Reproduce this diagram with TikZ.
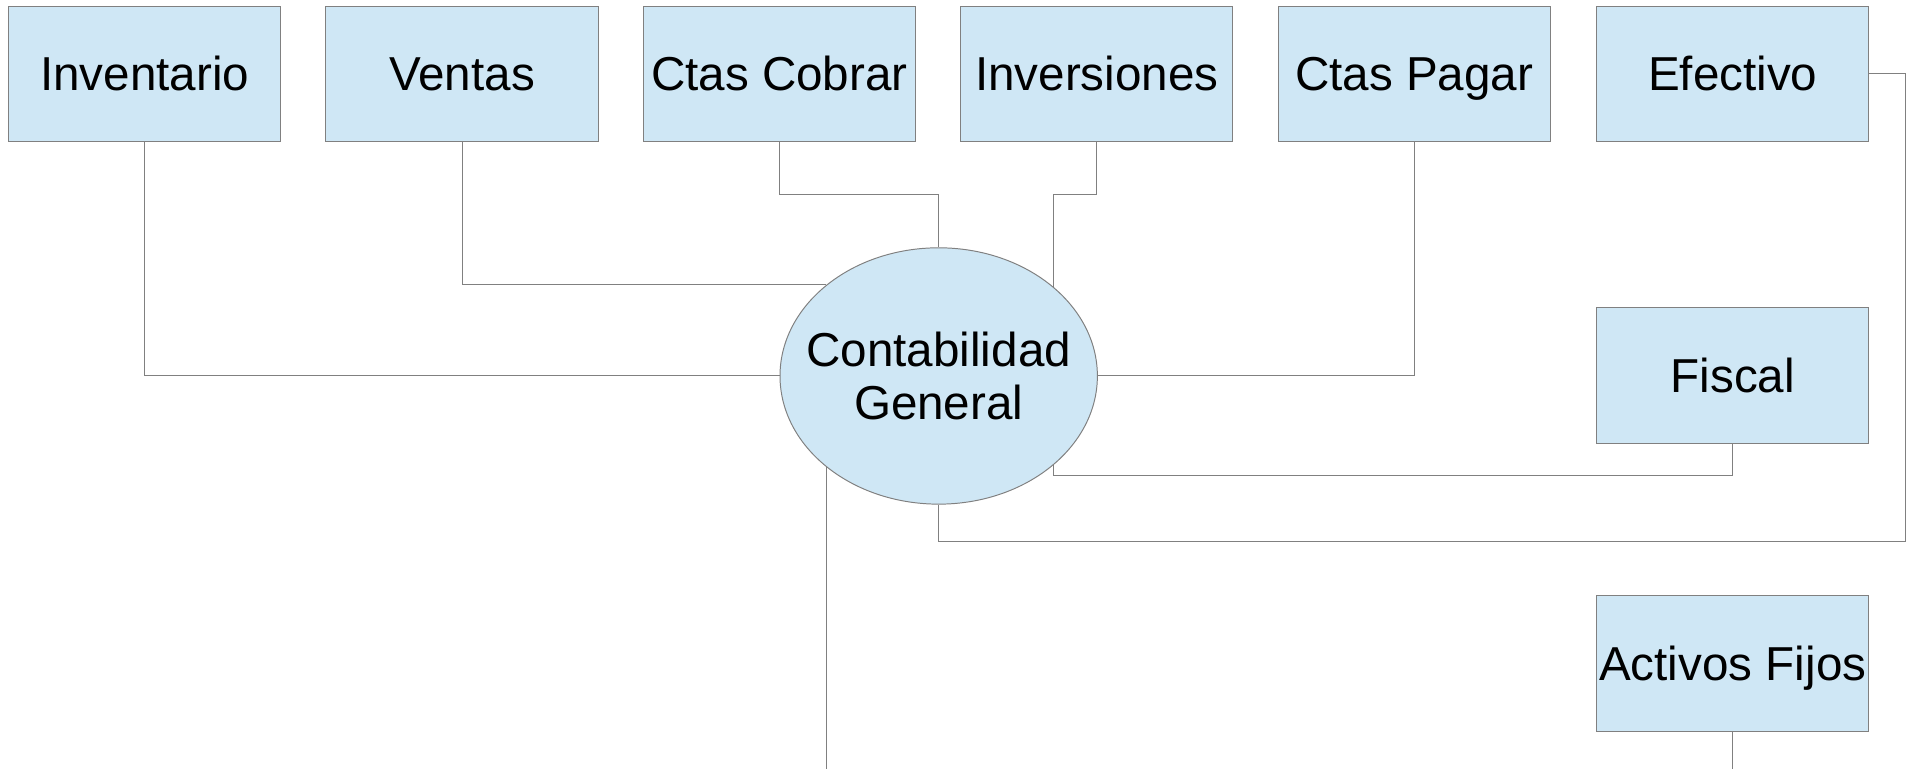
\documentclass[tikz,border=0pt]{standalone}
\usepackage{fontspec}
\setmainfont{Liberation Sans}
\usetikzlibrary{shapes.geometric}
\definecolor{boxfill}{HTML}{CFE7F5}
\definecolor{edgegray}{HTML}{808080}
\tikzset{
  acct/.style={draw=edgegray, fill=boxfill, line width=0.8pt, minimum width=223pt, minimum height=111pt, inner sep=0pt, text height=28pt, text depth=0pt, font=\fontsize{39}{45}\selectfont},
  hub/.style={ellipse, draw=edgegray, fill=boxfill, line width=0.8pt, minimum width=260pt, minimum height=210pt, inner sep=0pt},
  hubtext/.style={align=center, inner sep=0pt, font=\fontsize{39}{43}\selectfont},
  link/.style={draw=edgegray, line width=0.8pt}
}
\begin{document}
\begin{tikzpicture}[x=1pt, y=-1pt]
\useasboundingbox (0,0) rectangle (1568,630);
\fill[white] (0,0) rectangle (1568,630);
\coordinate (bottomedge) at (0,630);
\coordinate (ebend) at (769,444);

\node[acct] (inventario) at (118.5,60.5) {Inventario};
\node[acct] (ventas) at (378.5,60.5) {Ventas};
\node[acct] (cobrar) at (638.5,60.5) {Ctas Cobrar};
\node[acct] (inversiones) at (898.5,60.5) {Inversiones};
\node[acct] (pagar) at (1158.5,60.5) {Ctas Pagar};
\node[acct] (efectivo) at (1419.5,60.5) {Efectivo};
\node[acct] (fiscal) at (1419.5,307.5) {Fiscal};
\node[acct] (activos) at (1419.5,543.5) {Activos Fijos};

\node[hub] (ell) at (769,308) {};
\node[hubtext] (elltext) at (ell.center) {Contabilidad\\General};

\draw[link] (inventario.south) |- (ell.west);
\draw[link] (ventas.south) |- (ell.141.2);
\draw[link] (cobrar.south) -- ++(0,43) -| (ell.north);
\draw[link] (inversiones.south) -- ++(0,43) -| (ell.38.9);
\draw[link] (pagar.south) |- (ell.east);
\draw[link] (fiscal.south) -- ++(0,26) -| (ell.-38.9);
\draw[link] (efectivo.east) -- ++(30,0) |- (ebend) -- (ell.south);
\draw[link] (ell.-141.2) -- (ell.-141.2 |- bottomedge);
\draw[link] (activos.south) -- (activos.south |- bottomedge);
\end{tikzpicture}
\end{document}
